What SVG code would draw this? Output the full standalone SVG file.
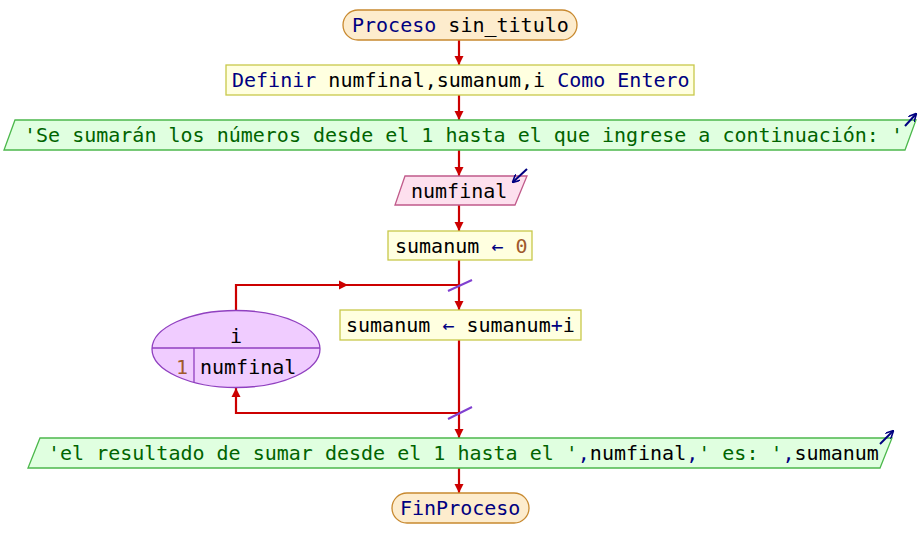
<svg xmlns="http://www.w3.org/2000/svg" width="920" height="558" viewBox="0 0 920 558">
<defs>
<marker id="ah" viewBox="0 0 10 10" refX="10" refY="5" markerWidth="9" markerHeight="10" markerUnits="userSpaceOnUse" orient="auto"><path d="M0,0 L10,5 L0,10 Z" fill="#cc0000"/></marker>
<marker id="io" viewBox="0 0 10 10" refX="9" refY="5" markerWidth="8" markerHeight="8" markerUnits="userSpaceOnUse" orient="auto"><path d="M0,0 L10,5 L0,10" fill="none" stroke="#000080" stroke-width="2"/></marker>
</defs>
<style>
text{font-family:"DejaVu Sans Mono","Liberation Mono",monospace;font-size:20px;fill:#000}
.kw{fill:#000080}
.st{fill:#006400}
.nm{fill:#a05a2c}
.term{fill:#fdeccd;stroke:#c8892f;stroke-width:1.3}
.proc{fill:#ffffe0;stroke:#c8c84a;stroke-width:1.3}
.out{fill:#e0ffe0;stroke:#4cb84c;stroke-width:1.3}
.inp{fill:#fde0ee;stroke:#c05a8a;stroke-width:1.3}
.loop{fill:#f0ccff;stroke:#9040c0;stroke-width:1.3}
.c{fill:none;stroke:#cc0000;stroke-width:2.2}
.sl{stroke:#8040d0;stroke-width:2}
.ic{fill:none;stroke:#000080;stroke-width:2}
</style>
<g id="connectors">
<line class="c" x1="459" y1="40" x2="459" y2="65" marker-end="url(#ah)"/>
<line class="c" x1="459" y1="95" x2="459" y2="120" marker-end="url(#ah)"/>
<line class="c" x1="459" y1="150" x2="459" y2="176" marker-end="url(#ah)"/>
<line class="c" x1="459" y1="205" x2="459" y2="231" marker-end="url(#ah)"/>
<line class="c" x1="459" y1="260" x2="459" y2="310" marker-end="url(#ah)"/>
<line class="c" x1="459" y1="340" x2="459" y2="438" marker-end="url(#ah)"/>
<line class="c" x1="459" y1="468" x2="459" y2="493" marker-end="url(#ah)"/>
<polyline class="c" points="236,310 236,285 459,285"/>
<line class="c" x1="236" y1="285" x2="348" y2="285" marker-end="url(#ah)"/>
<polyline class="c" points="459,413 236,413 236,388" marker-end="url(#ah)"/>
<line class="sl" x1="448" y1="291" x2="472" y2="280"/>
<line class="sl" x1="448" y1="419" x2="472" y2="407"/>
</g>
<g id="start">
<rect class="term" x="343" y="10" width="234" height="30" rx="15"/>
<text x="352" y="32"><tspan class="kw">Proceso</tspan> sin_titulo</text>
</g>
<g id="definir">
<rect class="proc" x="226" y="65" width="468" height="30"/>
<text x="232" y="87"><tspan class="kw">Definir</tspan> numfinal,sumanum,i <tspan class="kw">Como Entero</tspan></text>
</g>
<g id="escribir1">
<polygon class="out" points="15,120 916,120 905,150 4,150"/>
<text x="24" y="142" class="st">'Se sumarán los números desde el 1 hasta el que ingrese a continuación: '</text>
<line class="ic" x1="905" y1="126" x2="916" y2="114" marker-end="url(#io)"/>
</g>
<g id="leer">
<polygon class="inp" points="405,176 527,176 515,205 395,205"/>
<text x="411" y="198">numfinal</text>
<line class="ic" x1="527" y1="169" x2="513" y2="182" marker-end="url(#io)"/>
</g>
<g id="asig0">
<rect class="proc" x="388" y="231" width="144" height="29"/>
<text x="395" y="253">sumanum <tspan class="kw">←</tspan> <tspan class="nm">0</tspan></text>
</g>
<g id="para">
<ellipse class="loop" cx="236" cy="349" rx="84" ry="38.5"/>
<line x1="152" y1="348" x2="320" y2="348" stroke="#9040c0" stroke-width="1.3"/>
<line x1="194" y1="348" x2="194" y2="382" stroke="#9040c0" stroke-width="1.3"/>
<text x="236" y="343" text-anchor="middle">i</text>
<text x="176" y="374" class="nm">1</text>
<text x="200" y="374">numfinal</text>
</g>
<g id="asigsum">
<rect class="proc" x="340" y="310" width="241" height="30"/>
<text x="346" y="332">sumanum <tspan class="kw">←</tspan> sumanum<tspan class="kw">+</tspan>i</text>
</g>
<g id="escribir2">
<polygon class="out" points="40,438 892,438 880,468 28,468"/>
<text x="48" y="460"><tspan class="st">'el resultado de sumar desde el 1 hasta el '</tspan><tspan class="kw">,</tspan>numfinal<tspan class="kw">,</tspan><tspan class="st">' es: '</tspan><tspan class="kw">,</tspan>sumanum</text>
<line class="ic" x1="880" y1="444" x2="893" y2="431" marker-end="url(#io)"/>
</g>
<g id="fin">
<rect class="term" x="392" y="493" width="137" height="30" rx="15"/>
<text x="400" y="515" class="kw">FinProceso</text>
</g>
</svg>
